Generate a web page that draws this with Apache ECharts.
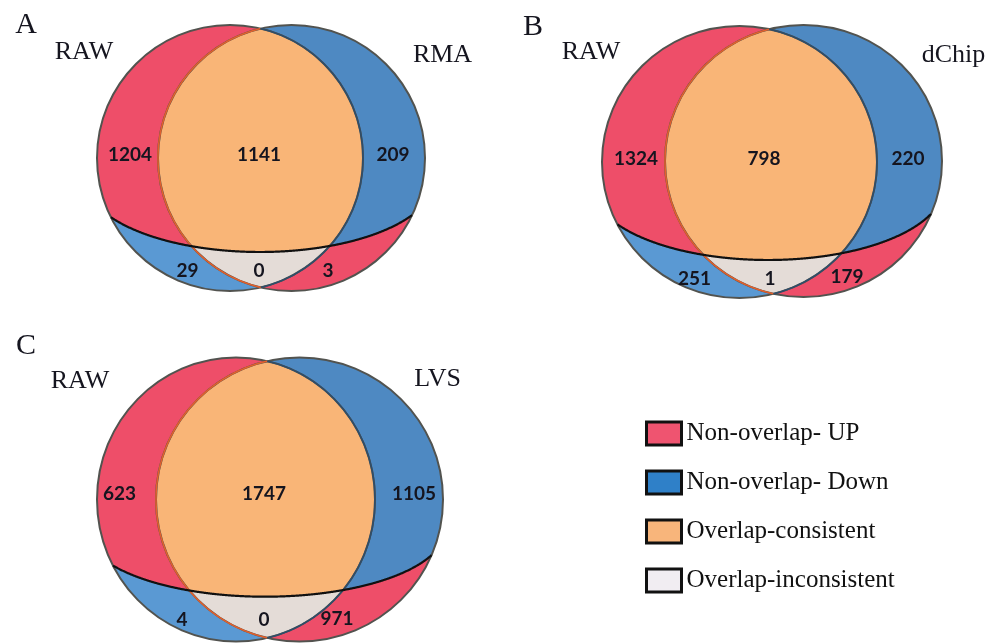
<!DOCTYPE html>
<html>
<head>
<meta charset="utf-8">
<script src="https://cdn.jsdelivr.net/npm/echarts@6/dist/echarts.min.js"></script>
<style>
  html, body { margin: 0; padding: 0; background: #ffffff; }
  #chart { width: 990px; height: 643px; }
</style>
</head>
<body>
<div id="chart"></div>
<script>
// ---- data ----
const panelLetters = ['A', 'B', 'C'];
const referenceMethod = 'RAW';
const comparedMethods = ['RMA', 'dChip', 'LVS'];
// gene counts per region, one entry per panel (A, B, C)
const rawOnlyUpper = [1204, 1324, 623];
const overlapConsistent = [1141, 798, 1747];
const methodOnlyUpper = [209, 220, 1105];
const rawOnlyLower = [29, 251, 4];
const overlapInconsistent = [0, 1, 0];
const methodOnlyLower = [3, 179, 971];
const legendLabels = ['Non-overlap- UP', 'Non-overlap- Down', 'Overlap-consistent', 'Overlap-inconsistent'];

// ---- layout (page units, 1 unit = 1 px on the hidden axes) ----
// the dividing curve's half-width (cut.rx) must span the union of both sets
const layout = [
  {
    L: { cx: 230, cy: 158, rx: 133, ry: 133 },
    R: { cx: 291.5, cy: 158, rx: 133.5, ry: 133 },
    cut: { cx: 260, cy: 179, rx: 175, ry: 73 },
    letter: [26, 25], refName: [84, 52.5], methodName: [442.5, 55],
    spots: [[130, 154.5], [259, 154.5], [393, 154.5], [187.5, 270.5], [259, 271], [328, 270.5]]
  },
  {
    L: { cx: 739.5, cy: 162, rx: 137.5, ry: 136 },
    R: { cx: 803.5, cy: 161, rx: 138.5, ry: 136 },
    cut: { cx: 768, cy: 186, rx: 176, ry: 74 },
    letter: [533, 27.5], refName: [591, 52.5], methodName: [953.5, 55],
    spots: [[636, 158.5], [764, 158.5], [908, 158.5], [694.5, 278.5], [770, 278.5], [847, 277]]
  },
  {
    L: { cx: 236, cy: 499.5, rx: 139, ry: 142 },
    R: { cx: 299.5, cy: 499.5, rx: 143.5, ry: 142 },
    cut: { cx: 265, cy: 529.7, rx: 180, ry: 67 },
    letter: [26, 346], refName: [80, 381.5], methodName: [437.5, 379.5],
    spots: [[119.5, 494], [264, 494], [414, 494], [182, 620], [264, 620], [337, 619]]
  }
];

const colors = {
  up: '#ee4e69',
  downUpper: '#4e89c2',
  downLower: '#5a99d3',
  consistent: '#f9b577',
  inconsistent: '#e4dcd7'
};
const legendColors = ['#ef5470', '#2f80c8', '#f8b57b', '#f1edf2'];

// ---- geometry helpers ----
function halfSpan(e, x) {
  const d = (x - e.cx) / e.rx;
  return d * d >= 1 ? null : e.ry * Math.sqrt(1 - d * d);
}
function topOf(e, x) { const h = halfSpan(e, x); return h === null ? Infinity : e.cy - h; }
function botOf(e, x) { const h = halfSpan(e, x); return h === null ? -Infinity : e.cy + h; }
function cutAt(c, x) {
  const d = Math.min(1, Math.abs(x - c.cx) / c.rx);
  return c.cy + c.ry * Math.sqrt(1 - d * d);
}
function inside(o, x, y) {
  const a = (x - o.cx) / o.rx, b = (y - o.cy) / o.ry;
  return a * a + b * b <= 1;
}
// vertical-slice polygon between a top and bottom boundary
function slicePolygon(api, x0, x1, topFn, botFn) {
  const upper = [], lower = [];
  for (let x = x0; x <= x1 + 1e-9; x += 0.25) {
    const t = topFn(x), b = botFn(x);
    if (isFinite(t) && isFinite(b) && t < b) {
      upper.push(api.coord([x, t]));
      lower.push(api.coord([x, b]));
    }
  }
  return upper.concat(lower.reverse());
}
function aboveCut(api, e, c) {
  return slicePolygon(api, e.cx - e.rx, e.cx + e.rx,
    x => topOf(e, x), x => Math.min(botOf(e, x), cutAt(c, x)));
}
function belowCut(api, e, c) {
  return slicePolygon(api, e.cx - e.rx, e.cx + e.rx,
    x => Math.max(topOf(e, x), cutAt(c, x)), x => botOf(e, x));
}
function lens(api, g, upperPart) {
  const { L, R, cut } = g;
  return slicePolygon(api, R.cx - R.rx, L.cx + L.rx,
    x => upperPart ? Math.max(topOf(L, x), topOf(R, x))
                   : Math.max(topOf(L, x), topOf(R, x), cutAt(cut, x)),
    x => upperPart ? Math.min(botOf(L, x), botOf(R, x), cutAt(cut, x))
                   : Math.min(botOf(L, x), botOf(R, x)));
}
function arcInside(api, e, other, t0, t1) {
  const pts = [];
  for (let t = t0; t <= t1; t += 0.004) {
    const x = e.cx + e.rx * Math.cos(t), y = e.cy + e.ry * Math.sin(t);
    if (inside(other, x, y)) pts.push(api.coord([x, y]));
  }
  return pts;
}
function poly(points, fill) {
  return { type: 'polygon', silent: true, shape: { points }, style: { fill } };
}
function label(api, pos, text, font, align) {
  const p = api.coord(pos);
  return {
    type: 'text', silent: true, x: p[0], y: p[1],
    style: { text: String(text), font, fill: '#15151f', align: align || 'center', verticalAlign: 'middle' }
  };
}

const panelData = panelLetters.map((_, i) => [i, 0]);

function regionSeries(name, color, build) {
  return {
    type: 'custom', name, coordinateSystem: 'cartesian2d', clip: false,
    itemStyle: { color },
    data: panelData, encode: { x: 0, y: 1 },
    renderItem: (params, api) => ({ type: 'group', children: build(api, layout[params.dataIndex]) })
  };
}

const numberFont = 'bold 19px Lato';
const nameFont = '26px "Liberation Serif"';
const letterFont = '30px "Liberation Serif"';

const outlineSeries = {
  type: 'custom', name: 'outline', coordinateSystem: 'cartesian2d', clip: false,
  data: panelData, encode: { x: 0, y: 1 }, z: 5,
  renderItem: (params, api) => {
    const i = params.dataIndex, g = layout[i];
    const { L, R, cut } = g;
    const children = [];
    [L, R].forEach(e => {
      const c = api.coord([e.cx, e.cy]);
      const s = api.size([e.rx, e.ry]);
      children.push({
        type: 'ellipse', silent: true,
        shape: { cx: c[0], cy: c[1], rx: s[0], ry: s[1] },
        style: { fill: 'none', stroke: '#52534f', lineWidth: 2 }
      });
    });
    children.push({ type: 'polyline', silent: true, shape: { points: arcInside(api, R, L, 0, 2 * Math.PI) },
      style: { fill: 'none', stroke: '#e2602c', lineWidth: 1.6 } });
    children.push({ type: 'polyline', silent: true, shape: { points: arcInside(api, L, R, -Math.PI, Math.PI) },
      style: { fill: 'none', stroke: '#2f4d69', lineWidth: 1.6 } });
    // dividing curve, kept inside the union of both sets
    const curvePts = [];
    const xs = Math.min(L.cx - L.rx, R.cx - R.rx), xe = Math.max(L.cx + L.rx, R.cx + R.rx);
    for (let x = xs; x <= xe; x += 0.5) {
      const y = cutAt(cut, x);
      if (inside(L, x, y) || inside(R, x, y)) curvePts.push(api.coord([x, y]));
    }
    children.push({ type: 'polyline', silent: true, shape: { points: curvePts },
      style: { fill: 'none', stroke: '#111111', lineWidth: 2.2 } });
    // counts
    const counts = [rawOnlyUpper[i], overlapConsistent[i], methodOnlyUpper[i],
                    rawOnlyLower[i], overlapInconsistent[i], methodOnlyLower[i]];
    counts.forEach((v, k) => children.push(label(api, g.spots[k], v, numberFont)));
    // names
    children.push(label(api, g.letter, panelLetters[i], letterFont));
    children.push(label(api, g.refName, referenceMethod, nameFont));
    children.push(label(api, g.methodName, comparedMethods[i], nameFont));
    return { type: 'group', children };
  }
};

const option = {
  animation: false,
  backgroundColor: '#ffffff',
  grid: { left: 0, right: 0, top: 0, bottom: 0 },
  xAxis: { type: 'value', min: 0, max: 990, show: false },
  yAxis: { type: 'value', min: 0, max: 643, inverse: true, show: false },
  legend: {
    orient: 'vertical', left: 640, top: 415.5, itemWidth: 35, itemHeight: 23, itemGap: 23,
    icon: 'rect', selectedMode: false,
    data: legendLabels.map((n, k) => ({
      name: n,
      itemStyle: { color: legendColors[k], borderColor: '#111111', borderWidth: 3 }
    })),
    textStyle: { fontFamily: 'Liberation Serif', fontSize: 25, color: '#111111', lineHeight: 26 }
  },
  series: [
    regionSeries(legendLabels[0], colors.up, (api, g) => [
      poly(aboveCut(api, g.L, g.cut), colors.up),
      poly(belowCut(api, g.R, g.cut), colors.up)
    ]),
    regionSeries(legendLabels[1], colors.downUpper, (api, g) => [
      poly(aboveCut(api, g.R, g.cut), colors.downUpper),
      poly(belowCut(api, g.L, g.cut), colors.downLower)
    ]),
    regionSeries(legendLabels[2], colors.consistent, (api, g) => [
      poly(lens(api, g, true), colors.consistent)
    ]),
    regionSeries(legendLabels[3], colors.inconsistent, (api, g) => [
      poly(lens(api, g, false), colors.inconsistent)
    ]),
    outlineSeries
  ]
};

const chart = echarts.init(document.getElementById('chart'), null, { renderer: 'canvas' });
chart.setOption(option);
</script>
</body>
</html>
